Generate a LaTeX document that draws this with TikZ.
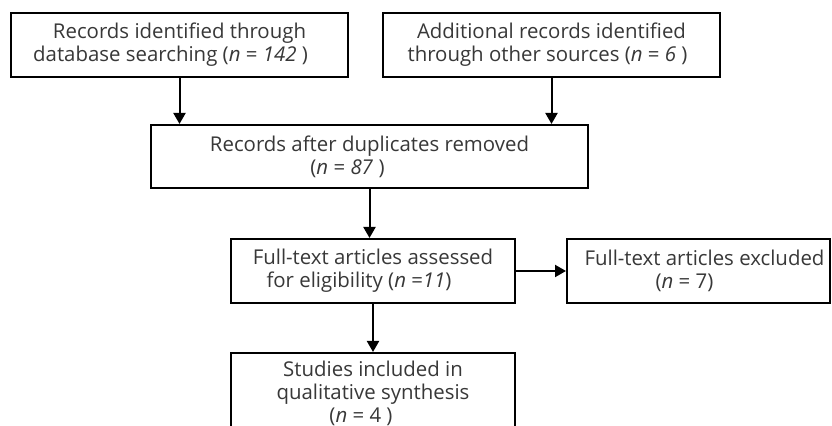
\documentclass[tikz,border=0pt]{standalone}
\usepackage{fontspec}
\setmainfont{Open Sans}
\usepackage{xcolor}
\usepackage{tikz}
\usetikzlibrary{arrows.meta}

\begin{document}
\begin{tikzpicture}[
  x=0.5pt, y=-0.5pt,
  >={Triangle[length=5.5pt,width=6pt]},
  every node/.style={font=\fontsize{10.2}{11.5}\selectfont, text=black!78},
  stage/.style={draw=black, line width=1pt, fill=white, align=center,
    inner sep=2pt, minimum height=32pt},
  wide/.style={stage, minimum width=168.5pt},
  mid/.style={stage, minimum width=142pt},
  flow/.style={->, line width=1pt, black},
]
\clip (0,0) rectangle (832,426);
\node[wide] (rec) at (179.5,45) {Records identified through\\
  database searching (\textit{n} = \textit{142} )\hspace*{9pt}};
\node[wide] (addrec) at (551.5,45) {Additional records identified\\
  through other sources (\textit{n} = \textit{6} )\hspace*{4pt}};
\node[stage, minimum width=218.5pt, minimum height=31.5pt] (dedup) at (369.5,156.5)
  {Records after duplicates removed\\(\textit{n} = \textit{87} )\hspace*{22pt}};
\node[mid] (fulltext) at (373,271) {Full-text articles assessed\\
  for eligibility (\textit{n} =\textit{11})\hspace*{14pt}};
\node[stage, minimum width=131.5pt] (excl) at (698.5,271)
  {\hspace*{6pt}Full-text articles excluded\\(\textit{n} = 7)\hspace*{14pt}};
\node[mid, minimum height=40pt] (incl) at (373,393) {Studies included in\\
  qualitative synthesis\\(\textit{n} = 4 )\hspace*{12pt}};
\draw[flow] (rec) -- (rec |- dedup.north);
\draw[flow] (addrec) -- (addrec |- dedup.north);
\draw[flow] (dedup) -- (dedup |- fulltext.north);
\draw[flow] (fulltext) -- (excl);
\draw[flow] (fulltext) -- (incl);
\end{tikzpicture}
\end{document}
